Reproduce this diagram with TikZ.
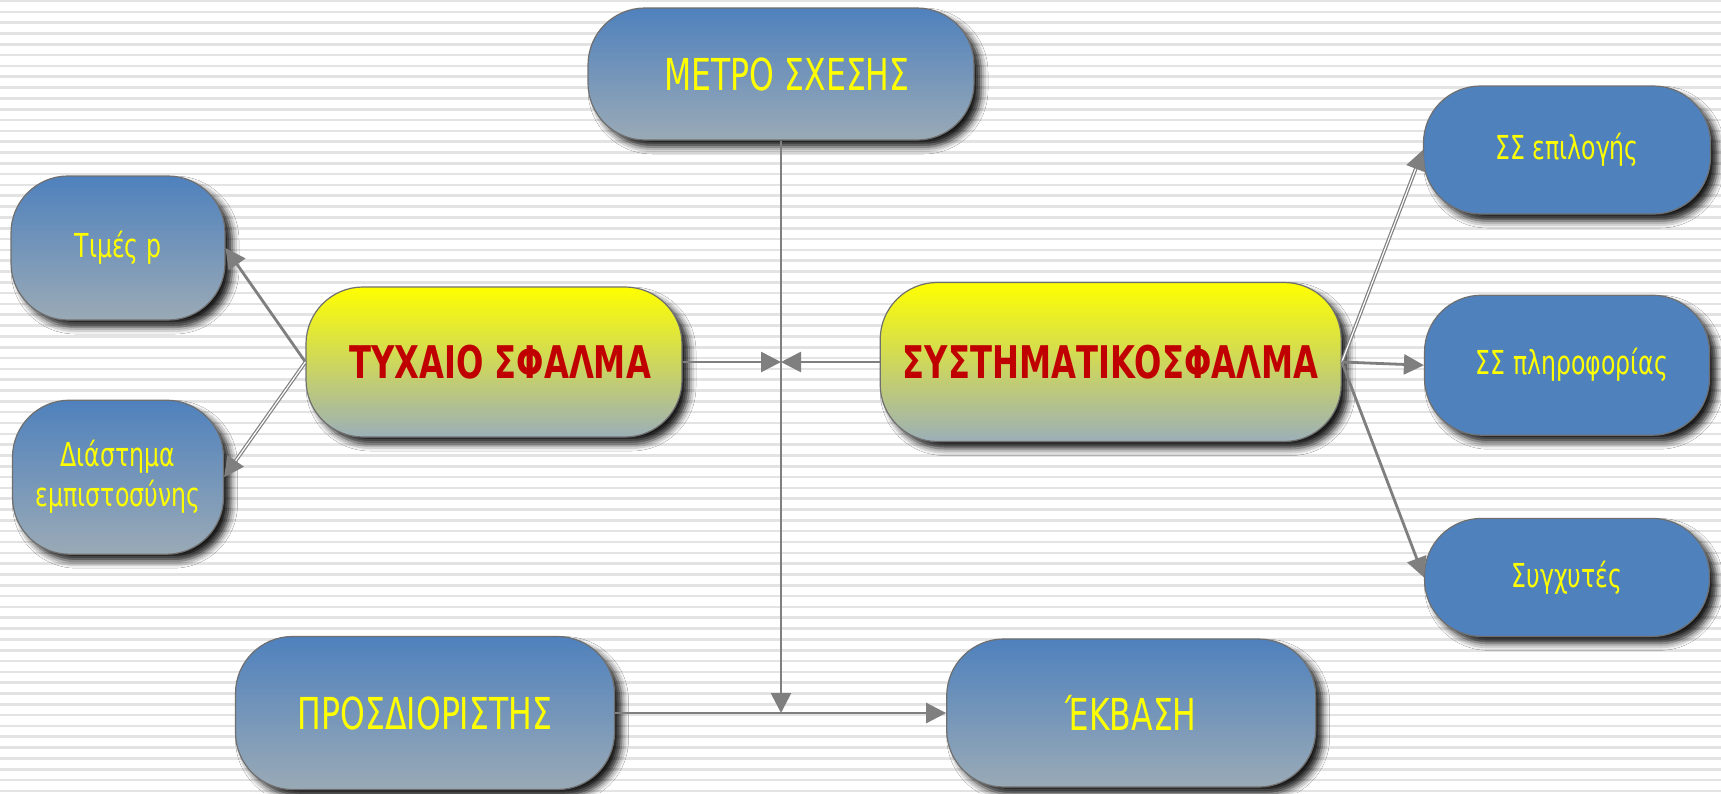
\documentclass[tikz,border=0pt]{standalone}
\usepackage{fontspec}
\usepackage{xcolor}
\usepackage{tikz}
\usetikzlibrary{shapes,arrows.meta,positioning,shadows.blur}
\newfontfamily\grk[FakeStretch=0.716]{DejaVu Sans}
\definecolor{blueTop}{HTML}{4F81BD}
\definecolor{blueBot}{HTML}{9AAAB6}
\definecolor{yelBot}{HTML}{9CAFB8}
\definecolor{txtyellow}{HTML}{FFFF00}
\definecolor{txtred}{HTML}{C00000}
\definecolor{boxline}{HTML}{6F6F6F}
\definecolor{linegray}{HTML}{7F7F7F}
\tikzset{bubble/.style={rectangle,rounded corners=57pt,draw=boxline,line width=1.2pt,inner sep=0pt,align=center,text=txtyellow,
    blur shadow={shadow xshift=7pt,shadow yshift=-7pt,shadow blur radius=7pt,shadow opacity=90}},
  blue bubble/.style={bubble,top color=blueTop,bottom color=blueBot},
  flat bubble/.style={bubble,fill=blueTop},
  yellow bubble/.style={bubble,top color=yellow,bottom color=yelBot,text=txtred,font=\grk\bfseries\fontsize{45}{50}\selectfont},
  big txt/.style={font=\grk\fontsize{44}{48}\selectfont},
  small txt/.style={font=\grk\fontsize{33}{40}\selectfont},
  stripe/.style={line width=2.6pt,draw=gray!22},}
\tikzstyle{arrow} = [line width=2.8pt,draw=linegray,-{Triangle[length=20pt,width=20pt]}]
\tikzstyle{arrow double} = [line width=1.2pt,draw=linegray,double=white,double distance=1.2pt,-{Triangle[length=20pt,width=20pt]}]

\begin{document}
\begin{tikzpicture}[x=1pt,y=-1pt]
    \useasboundingbox (0,0) rectangle (1721,793);
    \fill[white] (0,0) rectangle (1721,793);
    \foreach \k in {0,...,73} \draw[stripe] (0,1+10.82*\k) -- (1721,1+10.82*\k);

    \node[yellow bubble,minimum width=376pt,minimum height=150pt] (tyxaio) at (494,362) {\hspace*{12pt}ΤΥΧΑΙΟ ΣΦΑΛΜΑ};
    \node[yellow bubble,minimum width=461pt,minimum height=159pt] (syst)[right=197pt of tyxaio] {ΣΥΣΤΗΜΑΤΙΚΟΣΦΑΛΜΑ};
    \node[blue bubble,big txt,minimum width=386pt,minimum height=132pt] (metro) at (781,74) {\hspace*{12pt}ΜΕΤΡΟ ΣΧΕΣΗΣ};
    \node[blue bubble,small txt,minimum width=214pt,minimum height=144pt] (timesp) at (118,248) {Τιμές p};
    \node[blue bubble,small txt,minimum width=211pt,minimum height=154pt] (diast)[below=79pt of timesp] {Διάστημα\\εμπιστοσύνης};
    \node[blue bubble,big txt,minimum width=379pt,minimum height=153pt] (prosd) at (425,713) {ΠΡΟΣΔΙΟΡΙΣΤΗΣ};
    \node[blue bubble,big txt,minimum width=369pt,minimum height=148pt] (ekvasi)[right=331pt of prosd] {ΈΚΒΑΣΗ};
    \node[flat bubble,small txt,minimum width=287pt,minimum height=128pt] (sse) at (1567,150) {ΣΣ επιλογής};
    \node[flat bubble,small txt,minimum width=285pt,minimum height=140pt] (ssp)[below=80pt of sse] {\hspace*{10pt}ΣΣ πληροφορίας};
    \node[flat bubble,small txt,minimum width=285pt,minimum height=118pt] (syg)[below=82pt of ssp] {Συγχυτές};

    \coordinate (meet) at (metro.south |- tyxaio.east);
    \coordinate (join) at (metro.south |- prosd.east);

    \draw [arrow] (tyxaio.west) -- (timesp.east);
    \draw [arrow double] (tyxaio.west) -- (diast.east);
    \draw [arrow] (tyxaio.east) -- (meet);
    \draw [arrow] (syst.west) -- (meet);
    \draw [arrow] (metro.south) -- (join);
    \draw [arrow] (prosd.east) -- (ekvasi.west);
    \draw [arrow double] (syst.east) -- (sse.west);
    \draw [arrow] (syst.east) -- (ssp.west);
    \draw [arrow] (syst.east) -- (syg.west);
\end{tikzpicture}
\end{document}
